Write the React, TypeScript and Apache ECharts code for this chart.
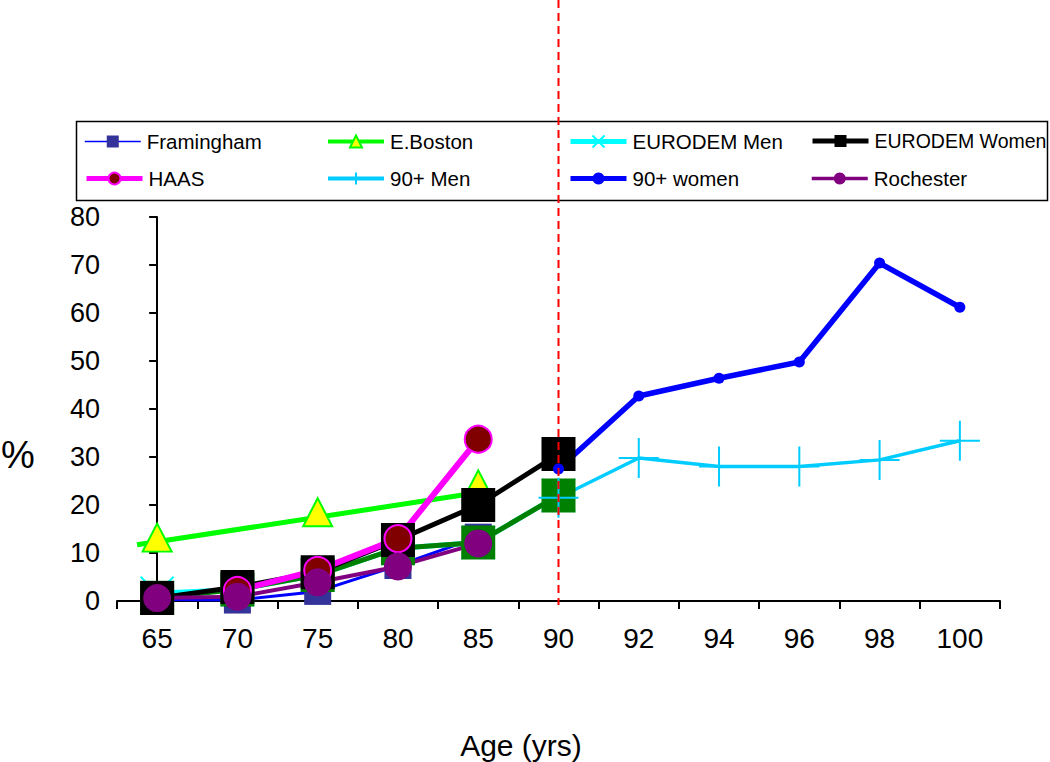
import { useEffect, useRef } from 'react';
import * as echarts from 'echarts';

// ---- data ----
const ages = ['65', '70', '75', '80', '85', '90', '92', '94', '96', '98', '100'];
const yMin = 0;
const yMax = 80;
const yStep = 10;

const framingham = [0.3, 0.2, 2.0, 7.4, 13.3, null, null, null, null, null, null];
const eBoston = [13.2, null, 18.5, null, 24.3, null, null, null, null, null, null];
const eBostonTrendX = [-0.25, 4.05];
const eBostonTrendY = [11.7, 22.7];
const eurodemMen = [1.6, 2.4, 5.4, 11.0, 12.2, 22.0, null, null, null, null, null];
const eurodemGreen = [0.7, 2.4, 5.4, 11.0, 12.2, 22.0, null, null, null, null, null];
const eurodemWomen = [0.6, 2.9, 6.0, 12.7, 20.0, 30.6, null, null, null, null, null];
const haas = [null, 2.2, 6.4, 13.0, 33.7, null, null, null, null, null, null];
const men90 = [null, null, null, null, null, 21.5, 29.8, 28.0, 28.0, 29.4, 33.4];
const women90 = [null, null, null, null, null, 27.5, 42.7, 46.4, 49.8, 70.4, 61.2];
const rochester = [0.6, 0.9, 3.9, 7.2, 12.0, null, null, null, null, null, null];

const legendRow1 = ['Framingham', 'E.Boston', 'EURODEM Men', 'EURODEM Women'];
const legendRow2 = ['HAAS', '90+ Men', '90+ women', 'Rochester'];
const yTitle = '%';
const xTitle = 'Age (yrs)';
const refAge = '90';

// ---- layout ----
const FONT = 'Liberation Sans';
const legendLefts = [84, 326, 568, 810];
const legendTops = [131, 168];

const X_PATH = 'path://M0,0L10,10M10,0L0,10';
const PLUS_PATH = 'path://M5,0L5,10M0,5L10,5';

const legendLineStyles: Record<string, any> = {
  Framingham: { color: '#0000FF', width: 1.5 },
  'E.Boston': { color: '#00FF00', width: 4 },
  'EURODEM Men': { color: '#00FFFF', width: 5 },
  'EURODEM Women': { color: '#000000', width: 5 },
  HAAS: { color: '#FF00FF', width: 5 },
  '90+ Men': { color: '#00CCFF', width: 4 },
  '90+ women': { color: '#0000FF', width: 5 },
  Rochester: { color: '#800080', width: 3.5 },
};

export default function App() {
  const ref = useRef<HTMLDivElement>(null);

  useEffect(() => {
    document.body.style.margin = '0';
    const chart = echarts.init(ref.current!, null, { renderer: 'svg' });

    const line = (
      name: string,
      data: any[],
      lineColor: string,
      width: number,
      symbol: string,
      symbolSize: any,
      itemStyle: any,
      extra: any = {}
    ) => ({
      type: 'line',
      name,
      data,
      xAxisIndex: 0,
      yAxisIndex: 0,
      symbol,
      symbolSize,
      showSymbol: true,
      showAllSymbol: true,
      lineStyle: { color: lineColor, width },
      itemStyle,
      emphasis: { disabled: true },
      ...extra,
    });

    const series: any[] = [
      line('Framingham', framingham, '#0000FF', 3, 'rect', 27, { color: '#333399', borderWidth: 0 }),
      line('E.Boston', eBoston, '#00FF00', 0, 'triangle', [29, 28], {
        color: '#FFFF00',
        borderColor: '#00FF00',
        borderWidth: 2,
      }, { lineStyle: { color: '#00FF00', width: 0, opacity: 0 } }),
      {
        type: 'line',
        name: 'E.Boston trend',
        xAxisIndex: 1,
        yAxisIndex: 0,
        data: eBostonTrendX.map((x, i) => [x, eBostonTrendY[i]]),
        symbol: 'none',
        lineStyle: { color: '#00FF00', width: 5 },
        emphasis: { disabled: true },
      },
      line('EURODEM Men', eurodemMen, '#00FFFF', 5, X_PATH, 33, {
        color: 'none',
        borderColor: '#00FFFF',
        borderWidth: 2,
      }),
      line('EURODEM Men (markers)', eurodemGreen, '#008000', 5, 'rect', 34, { color: '#008000', borderWidth: 0 }),
      line('EURODEM Women', eurodemWomen, '#000000', 5, 'rect', 34, { color: '#000000', borderWidth: 0 }),
      line('HAAS', haas, '#FF00FF', 6, 'circle', 27, {
        color: '#800000',
        borderColor: '#FF00FF',
        borderWidth: 2,
      }),
      line('90+ Men', men90, '#00CCFF', 3.5, PLUS_PATH, 40, {
        color: 'none',
        borderColor: '#00CCFF',
        borderWidth: 2,
      }),
      line('90+ women', women90, '#0000FF', 5.5, 'circle', 11, { color: '#0000FF', borderWidth: 0 }),
      line('Rochester', rochester, '#800080', 4, 'circle', 28, { color: '#800080', borderWidth: 0 }),
    ];

    const legends = [legendRow1, legendRow2].flatMap((row, r) =>
      row.map((name, c) => ({
        data: [{ name, lineStyle: { ...legendLineStyles[name], opacity: 1 } }],
        left: legendLefts[c],
        top: legendTops[r],
        padding: 0,
        itemWidth: 56,
        itemHeight: 15,
        itemGap: 0,
        selectedMode: false,
        textStyle: {
          fontSize: name === 'EURODEM Women' ? 19.5 : 20.5,
          color: '#000',
          fontFamily: FONT,
          padding: [0, 0, 0, 1],
        },
      }))
    );

    chart.setOption({
      animation: false,
      textStyle: { fontFamily: FONT },
      grid: { left: 117, right: 50, top: 217, bottom: 161, containLabel: false },
      legend: legends,
      xAxis: [
        {
          type: 'category',
          data: ages,
          boundaryGap: true,
          axisLine: { lineStyle: { color: '#000', width: 2 } },
          axisTick: { show: true, interval: 0, length: 8, lineStyle: { color: '#000', width: 2 } },
          axisLabel: { interval: 0, fontSize: 28, color: '#000', margin: 23, fontFamily: FONT },
          splitLine: { show: false },
        },
        {
          type: 'value',
          min: -0.5,
          max: ages.length - 0.5,
          show: false,
        },
      ],
      yAxis: {
        type: 'value',
        min: yMin,
        max: yMax,
        interval: yStep,
        axisLine: { show: true, lineStyle: { color: '#000', width: 2 } },
        axisTick: { show: true, length: 8, lineStyle: { color: '#000', width: 2 } },
        axisLabel: { fontSize: 27, color: '#000', margin: 17, fontFamily: FONT },
        splitLine: { show: false },
      },
      series,
    });

    const xRef = chart.convertToPixel({ xAxisIndex: 0 }, ages.indexOf(refAge)) as number;

    chart.setOption({
      graphic: [
        {
          type: 'rect',
          id: 'legendBox',
          shape: { x: 76.5, y: 121.5, width: 971, height: 79 },
          style: { fill: 'none', stroke: '#000', lineWidth: 1.5 },
          z: 10,
        },
        {
          type: 'line',
          id: 'refLine',
          shape: { x1: xRef, y1: 0, x2: xRef, y2: 605 },
          style: { stroke: '#FF0000', lineWidth: 2, lineDash: [8, 5] },
          z: 20,
        },
        {
          type: 'text',
          id: 'yTitle',
          x: 1,
          y: 455,
          style: {
            text: yTitle,
            fontSize: 38,
            fontFamily: FONT,
            fill: '#000',
            verticalAlign: 'middle',
          },
        },
        {
          type: 'text',
          id: 'xTitle',
          x: 521,
          y: 745,
          style: {
            text: xTitle,
            fontSize: 30,
            fontFamily: FONT,
            fill: '#000',
            align: 'center',
            verticalAlign: 'middle',
          },
        },
      ],
    });

    return () => chart.dispose();
  }, []);

  return <div ref={ref} style={{ width: 1050, height: 762 }} />;
}
